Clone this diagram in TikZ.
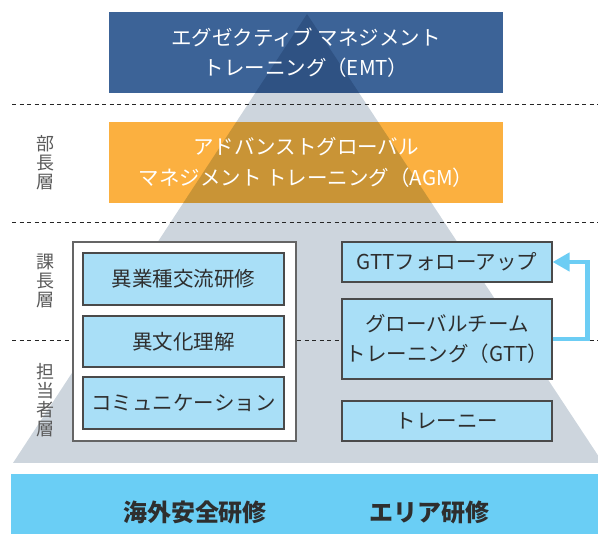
\documentclass[tikz,border=0pt]{standalone}
\usepackage{fontspec}
\setmainfont{Noto Sans CJK JP}
\usetikzlibrary{arrows.meta}
\definecolor{emtblue}{HTML}{3C6397}
\definecolor{emtdark}{HTML}{2F5283}
\definecolor{agmorange}{HTML}{FBB040}
\definecolor{agmdark}{HTML}{C99436}
\definecolor{pyrgray}{HTML}{CDD5DD}
\definecolor{boxblue}{HTML}{A9DFF7}
\definecolor{bandblue}{HTML}{6ACEF5}
\definecolor{arrowblue}{HTML}{6CCDF4}
\definecolor{edgegray}{HTML}{4A4A4A}
\definecolor{labgray}{HTML}{5A5A5A}
\definecolor{txtdark}{HTML}{2E2E2E}
\tikzset{
  topbox/.style={inner sep=0pt, minimum width=394pt, minimum height=81pt},
  whitetext/.style={text=white, align=center, font=\fontsize{20.5}{30.5}\selectfont},
  subbox/.style={draw=edgegray, line width=1.1pt, fill=boxblue, inner sep=0pt},
  boxtext/.style={text=txtdark, align=center, font=\fontsize{20.5}{30}\selectfont},
  layerlabel/.style={text=labgray, align=center, font=\fontsize{18}{19}\selectfont},
  dashline/.style={draw=black!85, line width=0.9pt, dash pattern=on 4pt off 3.5pt},
  bandtext/.style={text=txtdark, font=\bfseries\fontsize{24}{28}\selectfont},
  arrowline/.style={draw=arrowblue, line width=4.5pt, -{Triangle[length=17pt,width=18pt]}}
}
\begin{document}
\begin{tikzpicture}[x=1pt,y=-1pt]
\useasboundingbox (0,0) rectangle (598,534);
% pyramid
\begin{scope}
  \clip (0,0) rectangle (598,534);
  \fill[pyrgray] (307,14) -- (13,463) -- (603,463) -- cycle;
\end{scope}
% top boxes
\node[topbox, fill=emtblue] (emt) at (306,52.5) {};
\node[topbox, fill=agmorange] (agm) at (306,162.5) {};
\begin{scope}
  \clip (307,14) -- (13,463) -- (603,463) -- cycle;
  \fill[emtdark] (emt.south west) rectangle (emt.north east);
  \fill[agmdark] (agm.south west) rectangle (agm.north east);
\end{scope}
\node[whitetext] (emtT) at (emt.center) {エグゼクティブ マネジメント\\トレーニング（EMT）};
\node[whitetext] (agmT) at (agm.center) {アドバンストグローバル\\マネジメント トレーニング（AGM）};
% dashed separators
\draw[dashline] (12,104.5) -- (598,104.5);
\draw[dashline] (12,222.5) -- (598,222.5);
\draw[dashline] (12,340) -- (598,340);
% layer labels
\node[layerlabel] (bucho) at (45,162.5) {部\\長\\層};
\node[layerlabel] (kacho) at (45,280.5) {課\\長\\層};
\node[layerlabel] (tanto) at (45,400.5) {担\\当\\者\\層};
% left white box
\node[draw=edgegray!85, line width=1.1pt, fill=white, inner sep=0pt, minimum width=223pt, minimum height=199pt] (wbox) at (184.5,341.5) {};
\node[subbox, minimum width=201pt, minimum height=52pt] (ig) at (183.5,279) {};
\node[subbox, minimum width=201pt, minimum height=51pt] (ib) at (183.5,341.5) {};
\node[subbox, minimum width=201pt, minimum height=52pt] (co) at (183.5,403) {};
\node[boxtext] (igT) at (ig.center) {異業種交流研修};
\node[boxtext] (ibT) at (ib.center) {異文化理解};
\node[boxtext] (coT) at (co.center) {コミュニケーション};
% right boxes
\node[subbox, minimum width=210pt, minimum height=40pt] (fol) at (447,262) {};
\node[subbox, minimum width=210pt, minimum height=80pt] (gtt) at (447,339) {};
\node[subbox, minimum width=210pt, minimum height=40pt] (tr) at (447,421) {};
\node[boxtext] (folT) at (fol.center) {GTTフォローアップ};
\node[boxtext] (gttT) at (gtt.center) {グローバルチーム\\トレーニング（GTT）};
\node[boxtext] (trT) at (tr.center) {トレーニー};
% arrow
\draw[arrowline] (gtt.east) -- ++(35,0) |- (fol.east);
% bottom band
\node[fill=bandblue, inner sep=0pt, minimum width=587pt, minimum height=60pt, anchor=north west] (band) at (11,474) {};
\node[bandtext] (kaigai) at (195,512) {海外安全研修};
\node[bandtext] (area) at (429,512) {エリア研修};
\end{tikzpicture}
\end{document}
